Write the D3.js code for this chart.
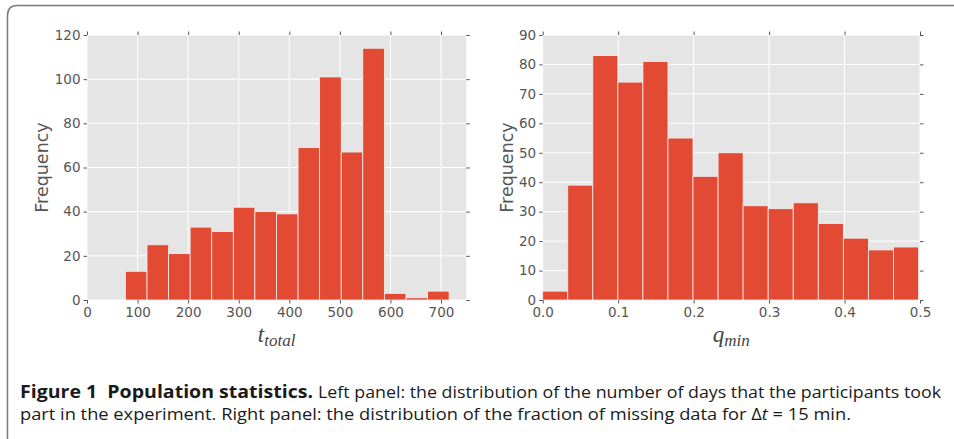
<!DOCTYPE html>
<html>
<head>
<meta charset="utf-8">
<script src="https://cdn.jsdelivr.net/npm/d3@7"></script>
<style>
  body { margin: 0; background: #fff; }
  svg { display: block; }
</style>
</head>
<body>
<svg id="chart" width="954" height="439"></svg>
<script>
// left panel: number of days (t_total), 15 equal bins
const tTotalRange = [76, 716];
const tTotalCounts = [13, 25, 21, 33, 31, 42, 40, 39, 69, 101, 67, 114, 3, 1, 4];
const tTotalXTicks = [0, 100, 200, 300, 400, 500, 600, 700];
const tTotalYTicks = [0, 20, 40, 60, 80, 100, 120];

// right panel: fraction of missing data (q_min), 15 equal bins
const qMinRange = [0, 0.498];
const qMinCounts = [3, 39, 83, 74, 81, 55, 42, 50, 32, 31, 33, 26, 21, 17, 18];
const qMinXTicks = [0, 0.1, 0.2, 0.3, 0.4, 0.5];
const qMinYTicks = [0, 10, 20, 30, 40, 50, 60, 70, 80, 90];

const svg = d3.select('#chart');

// figure frame
svg.append('path')
  .attr('d', 'M7.5,460 L7.5,15.5 Q7.5,5.5 17.5,5.5 L960,5.5')
  .attr('fill', 'none')
  .attr('stroke', '#7a7a7a')
  .attr('stroke-width', 1.5);

function makeBins(range, counts) {
  const w = (range[1] - range[0]) / counts.length;
  return counts.map((c, i) => ({x0: range[0] + i * w, x1: range[0] + (i + 1) * w, count: c}));
}

function drawPanel(opts) {
  const g = svg.append('g');
  const x = d3.scaleLinear().domain(opts.xDomain).range([opts.left, opts.right]);
  const y = d3.scaleLinear().domain(opts.yDomain).range([opts.bottom, opts.top]);

  g.append('rect')
    .attr('x', opts.left).attr('y', opts.top)
    .attr('width', opts.right - opts.left).attr('height', opts.bottom - opts.top)
    .attr('fill', '#e5e5e5');

  // grid
  g.selectAll('.vgrid').data(opts.xTicks).enter().append('line')
    .attr('x1', d => x(d)).attr('x2', d => x(d))
    .attr('y1', opts.top).attr('y2', opts.bottom)
    .attr('stroke', '#fff').attr('stroke-width', 1);
  g.selectAll('.hgrid').data(opts.yTicks).enter().append('line')
    .attr('y1', d => y(d)).attr('y2', d => y(d))
    .attr('x1', opts.left).attr('x2', opts.right)
    .attr('stroke', '#fff').attr('stroke-width', 1);

  // bars
  g.selectAll('.bar').data(makeBins(opts.range, opts.counts)).enter().append('rect')
    .attr('x', d => x(d.x0))
    .attr('width', d => x(d.x1) - x(d.x0))
    .attr('y', d => y(d.count))
    .attr('height', d => y(0) - y(d.count))
    .attr('fill', '#e24a33')
    .attr('stroke', '#f2eeee')
    .attr('stroke-width', 0.8);

  // axes (ticks out, on all four sides)
  const tickStyle = sel => {
    sel.select('.domain').remove();
    sel.selectAll('line').attr('stroke', '#555');
    sel.selectAll('text')
      .attr('fill', '#555')
      .style('font-family', 'DejaVu Sans')
      .style('font-size', '13.5px');
  };
  g.append('g').attr('transform', `translate(0,${opts.bottom})`)
    .call(d3.axisBottom(x).tickValues(opts.xTicks).tickFormat(opts.xFormat).tickSize(3.5).tickPadding(4))
    .call(tickStyle);
  g.append('g').attr('transform', `translate(0,${opts.top})`)
    .call(d3.axisTop(x).tickValues(opts.xTicks).tickFormat('').tickSize(3.5))
    .call(tickStyle);
  g.append('g').attr('transform', `translate(${opts.left},0)`)
    .call(d3.axisLeft(y).tickValues(opts.yTicks).tickSize(3.5).tickPadding(3))
    .call(tickStyle);
  g.append('g').attr('transform', `translate(${opts.right},0)`)
    .call(d3.axisRight(y).tickValues(opts.yTicks).tickFormat('').tickSize(3.5))
    .call(tickStyle);

  // y label
  g.append('text')
    .attr('transform', `translate(${opts.ylabelX},${(opts.top + opts.bottom) / 2}) rotate(-90)`)
    .attr('text-anchor', 'middle')
    .attr('fill', '#555')
    .style('font-family', 'DejaVu Sans')
    .style('font-size', '17.5px')
    .text('Frequency');

  // x label (math)
  const xl = g.append('text')
    .attr('x', (opts.left + opts.right) / 2)
    .attr('y', 342)
    .attr('text-anchor', 'middle')
    .attr('fill', '#444')
    .style('font-family', 'Liberation Serif')
    .style('font-style', 'italic');
  xl.append('tspan').style('font-size', '23px').text(opts.xlabel[0]);
  xl.append('tspan').attr('dy', 4).style('font-size', '17px').text(opts.xlabel[1]);
}

drawPanel({
  left: 87, right: 466.3, top: 35, bottom: 300,
  xDomain: [0, 750], yDomain: [0, 120],
  xTicks: tTotalXTicks, yTicks: tTotalYTicks, xFormat: d3.format('d'),
  range: tTotalRange, counts: tTotalCounts,
  ylabelX: 48, xlabel: ['t', 'total']
});

drawPanel({
  left: 542.7, right: 920, top: 35, bottom: 300,
  xDomain: [0, 0.5], yDomain: [0, 90],
  xTicks: qMinXTicks, yTicks: qMinYTicks, xFormat: d3.format('.1f'),
  range: qMinRange, counts: qMinCounts,
  ylabelX: 513, xlabel: ['q', 'min']
});

// caption
const cap = svg.append('g').style('font-family', 'Open Sans').style('font-size', '17px').attr('fill', '#1a1a1a');
cap.append('text').attr('x', 20).attr('y', 398)
  .attr('textLength', 293).attr('lengthAdjust', 'spacingAndGlyphs')
  .style('font-weight', 'bold')
  .text('Figure 1\u00a0\u00a0Population statistics.');
cap.append('text').attr('x', 318).attr('y', 398)
  .attr('textLength', 623).attr('lengthAdjust', 'spacingAndGlyphs')
  .text('Left panel: the distribution of the number of days that the participants took');
const l2 = cap.append('text').attr('x', 20).attr('y', 420)
  .attr('textLength', 831).attr('lengthAdjust', 'spacingAndGlyphs');
l2.append('tspan').text('part in the experiment. Right panel: the distribution of the fraction of missing data for ');
l2.append('tspan').text('\u0394');
l2.append('tspan').style('font-style', 'italic').text('t');
l2.append('tspan').text(' = 15 min.');
</script>
</body>
</html>
